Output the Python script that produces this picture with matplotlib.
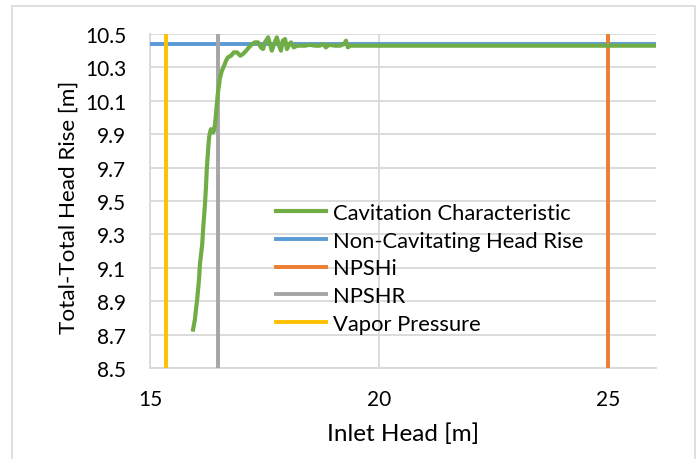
import matplotlib
matplotlib.use("Agg")
import matplotlib.pyplot as plt
from matplotlib.patches import Rectangle

plt.rcParams['font.family'] = ['Lato', 'DejaVu Sans']

# Cavitation characteristic (inlet head [m], total-total head rise [m])
inlet_head = [15.94, 15.96, 15.98, 16.00, 16.03, 16.05, 16.07, 16.09, 16.14, 16.16,
              16.20, 16.22, 16.24, 16.27, 16.29, 16.31, 16.33, 16.35, 16.38, 16.40,
              16.42, 16.44, 16.46, 16.48, 16.51, 16.53, 16.57, 16.62, 16.66, 16.70,
              16.77, 16.83, 16.90, 16.97, 17.03, 17.10, 17.16, 17.23, 17.29, 17.36,
              17.42, 17.47, 17.51, 17.58, 17.62, 17.66, 17.71, 17.77, 17.82, 17.86,
              17.90, 17.95, 17.99, 18.03, 18.08, 18.14, 18.21, 18.28, 18.38, 18.49,
              18.60, 18.71, 18.78, 18.84, 18.91, 19.04, 19.15, 19.24, 19.28, 19.32,
              19.37, 19.59, 20.02, 20.90, 22.64, 24.83, 26.05]
head_rise = [8.73, 8.76, 8.79, 8.84, 8.91, 8.97, 9.03, 9.12, 9.24, 9.33,
             9.48, 9.57, 9.69, 9.81, 9.88, 9.91, 9.93, 9.925, 9.91, 9.925,
             9.96, 10.02, 10.08, 10.14, 10.20, 10.24, 10.28, 10.31, 10.34, 10.36,
             10.37, 10.39, 10.39, 10.37, 10.38, 10.40, 10.42, 10.44, 10.45, 10.45,
             10.42, 10.41, 10.45, 10.48, 10.44, 10.40, 10.44, 10.48, 10.43, 10.40,
             10.46, 10.47, 10.41, 10.43, 10.45, 10.42, 10.43, 10.43, 10.43, 10.435,
             10.43, 10.43, 10.44, 10.42, 10.435, 10.43, 10.43, 10.44, 10.46, 10.42,
             10.43, 10.43, 10.43, 10.43, 10.43, 10.43, 10.43]

non_cavitating_head = 10.44
npshi = 25.0
npshr = 16.48
vapor_pressure = 15.35

x_ticks = [15, 20, 25]
y_ticks = [8.5, 8.7, 8.9, 9.1, 9.3, 9.5, 9.7, 9.9, 10.1, 10.3, 10.5]

fig = plt.figure(figsize=(6.99, 4.60), dpi=100)
fig.patches.append(Rectangle((12/699, -0.05), (695-12)/699, 1.05 - 7/460,
                             transform=fig.transFigure, fill=False,
                             edgecolor='#d9d9d9', linewidth=1.2))
ax = fig.add_axes([150/699, 1-369/460, (656-150)/699, (369-35)/460])

ax.plot(inlet_head, head_rise, color='#70ad47', lw=3.0, label='Cavitation Characteristic', zorder=5)
ax.axhline(non_cavitating_head, color='#5b9bd5', lw=2.8, label='Non-Cavitating Head Rise', zorder=4)
ax.axvline(npshi, color='#ed7d31', lw=2.8, label='NPSHi', zorder=4)
ax.axvline(npshr, color='#a5a5a5', lw=2.8, label='NPSHR', zorder=4)
ax.axvline(vapor_pressure, color='#ffc000', lw=2.8, label='Vapor Pressure', zorder=4)

ax.set_xlim(15, 26.05)
ax.set_ylim(8.5, 10.5)
ax.set_xticks(x_ticks)
ax.set_yticks(y_ticks)
ax.set_yticklabels([f"{v:.1f}" for v in y_ticks])
ax.grid(True, color='#d9d9d9', lw=1.3, zorder=0)
ax.set_axisbelow(True)
for s in ['top', 'right']:
    ax.spines[s].set_visible(False)
for s in ['left', 'bottom']:
    ax.spines[s].set_color('#d9d9d9')
    ax.spines[s].set_linewidth(1.3)
ax.tick_params(length=0, labelsize=15, colors='black')
ax.tick_params(axis='y', pad=17)
ax.tick_params(axis='x', pad=15)
ax.set_xlabel('Inlet Head [m]', fontsize=17.5, labelpad=10)
ax.set_ylabel('Total-Total Head Rise [m]', fontsize=16.2)
ax.yaxis.set_label_coords(-0.140, 0.484)

leg = ax.legend(loc='upper left', bbox_to_anchor=(0.231, 0.52), frameon=False,
                fontsize=15.8, handlelength=2.3, handletextpad=0.3,
                labelspacing=0.35, borderaxespad=0)

fig.savefig('out.png', dpi=100)
